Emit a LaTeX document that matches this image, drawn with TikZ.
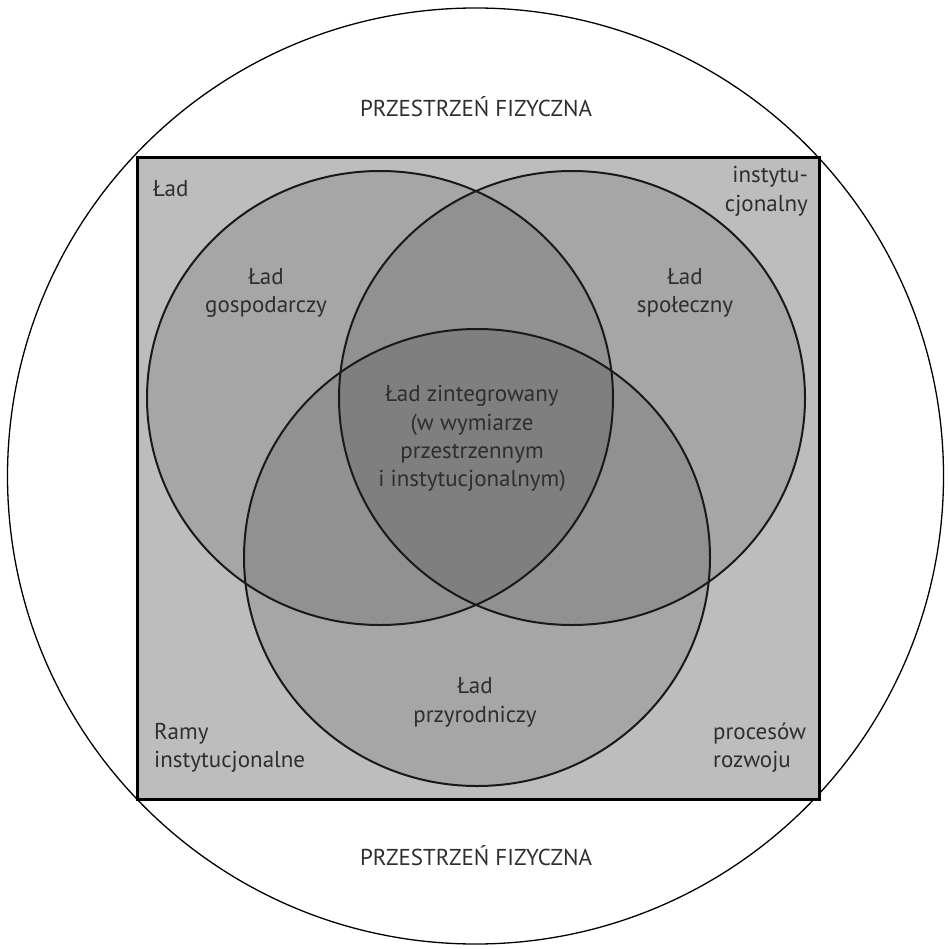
\documentclass[tikz,border=0pt]{standalone}
\usepackage{fontspec}
\setmainfont{PT Sans}
\begin{document}
\begin{tikzpicture}[x=1pt,y=-1pt,
  lbl/.style={inner sep=0pt,anchor=base,font=\fontsize{23}{28}\selectfont,text=black!82},
  lblw/.style={lbl,anchor=base west},
  lble/.style={lbl,anchor=base east},
  venn/.style={fill=black,fill opacity=0.12},
  vennline/.style={draw=black!90,line width=2pt}]
\useasboundingbox (0,0) rectangle (947,949);
% outer circle
\draw[line width=1.3pt] (475.5,476) circle [radius=468];
% rectangle
\fill[black!26] (137,158) rectangle (819,799);
% circles fill
\fill[venn] (380,398) ellipse [x radius=233,y radius=227];
\fill[venn] (572,398) ellipse [x radius=233,y radius=227];
\fill[venn] (477,557.5) ellipse [x radius=233,y radius=228.5];
\draw[vennline] (380,398) ellipse [x radius=233,y radius=227];
\draw[vennline] (572,398) ellipse [x radius=233,y radius=227];
\draw[vennline] (477,557.5) ellipse [x radius=233,y radius=228.5];
\draw[line width=3pt] (137,158) rectangle (819,799);
% texts
\node[lbl] (pt) at (476,116.5) {PRZESTRZEŃ FIZYCZNA};
\node[lbl] (pb) at (476,865) {PRZESTRZEŃ FIZYCZNA};
\node[lblw] (l1) at (153,197) {Ład};
\node[lble] (i1) at (808,183) {instytu-};
\node[lble] (i2) at (808,212) {cjonalny};
\node[lblw] (r1) at (154,739) {Ramy};
\node[lblw] (r2) at (154,767) {instytucjonalne};
\node[lblw] (p1) at (713,739) {procesów};
\node[lblw] (p2) at (713,767) {rozwoju};
\node[lbl] (g1) at (266,284) {Ład};
\node[lbl] (g2) at (266,312.5) {gospodarczy};
\node[lbl] (s1) at (685,284) {Ład};
\node[lbl] (s2) at (685,312.5) {społeczny};
\node[lbl] (z1) at (472,401.5) {Ład zintegrowany};
\node[lbl] (z2) at (472,430) {(w wymiarze};
\node[lbl] (z3) at (472,458.3) {przestrzennym};
\node[lbl] (z4) at (472,486.7) {i instytucjonalnym)};
\node[lbl] (n1) at (475,693) {Ład};
\node[lbl] (n2) at (475,722) {przyrodniczy};
\end{tikzpicture}
\end{document}
